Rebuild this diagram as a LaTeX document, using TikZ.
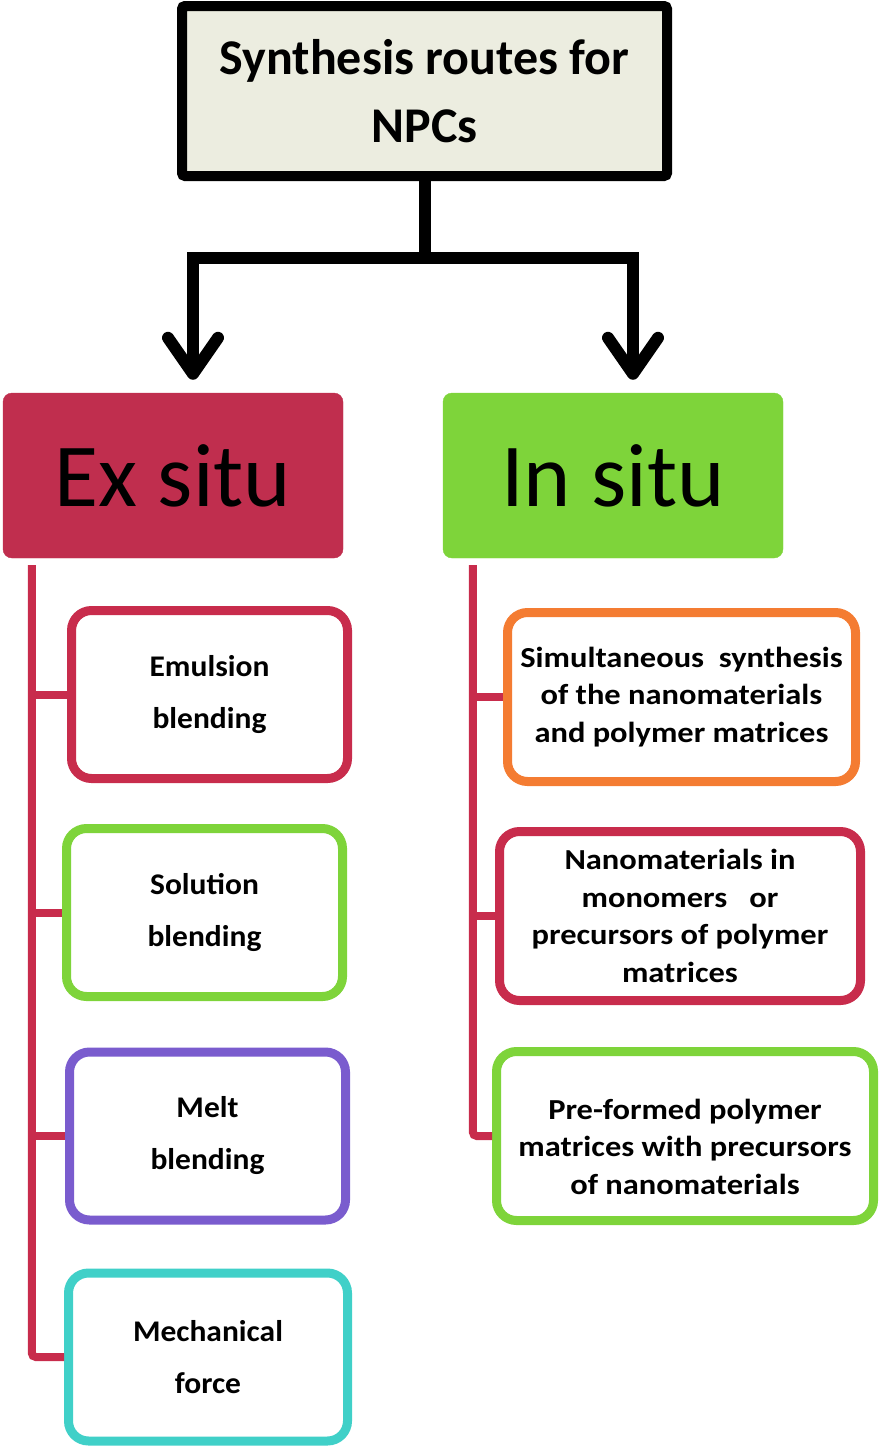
\documentclass[tikz,border=0pt]{standalone}
\usepackage{fontspec}
\setmainfont{Carlito}
\newfontfamily\wideR[FakeStretch=1.12]{Carlito}
\newfontfamily\wideL[FakeStretch=1.05]{Carlito}
\usetikzlibrary{arrows.meta}
\definecolor{crim}{RGB}{192,46,78}
\definecolor{crimline}{RGB}{200,44,76}
\definecolor{grn}{RGB}{126,212,58}
\definecolor{topfill}{RGB}{236,237,224}
\definecolor{orng}{RGB}{244,124,50}
\definecolor{purp}{RGB}{122,92,206}
\definecolor{cyn}{RGB}{64,208,200}
\begin{document}
\begin{tikzpicture}[x=1pt,y=-1pt,
  topbox/.style={draw=black, line width=10pt, fill=topfill, rounded corners=3pt,
    minimum width=485pt, minimum height=170pt, align=center, inner sep=0pt,
    font=\fontsize{50}{68}\selectfont\bfseries},
  bigbox/.style={fill=#1, draw=#1, rounded corners=9pt, minimum width=340pt,
    minimum height=165pt, inner sep=0pt, font=\fontsize{90}{90}\selectfont},
  leafL/.style={draw=#1, line width=9pt, fill=white, rounded corners=20pt,
    minimum width=276pt, minimum height=168pt, align=center, inner sep=0pt,
    font=\wideL\fontsize{30}{52}\selectfont\bfseries},
  leafR/.style={draw=#1, line width=9pt, fill=white, rounded corners=20pt,
    minimum height=169pt, align=center, inner sep=0pt,
    font=\wideR\fontsize{29}{37.5}\selectfont\bfseries},
  arr/.style={line width=12pt, draw=black},
  tip/.style={-{Straight Barb[length=36pt, width=50pt, line width=12pt, round]}},
  trunk/.style={line width=8pt, draw=crimline, rounded corners=4pt}
]
\useasboundingbox (0,0) rectangle (888,1454);

\node[topbox] (top) at (424.5,91) {Synthesis routes for\\NPCs};

\node[bigbox=crim] (ex) at (173,475.5) {Ex situ};
\node[bigbox=grn] (in) at (613,475.5) {In situ};

\coordinate (j) at (top.south |- 0,258);
\draw[arr] (top.south) -- (j);
\draw[arr, tip] (j) -| ([xshift=20pt, yshift=13pt]ex.north);
\draw[arr, tip] (j) -| ([xshift=20pt, yshift=13pt]in.north);

\node[leafL=crimline] (emul) at (209.5,694.5) {Emulsion\\blending};
\node[leafL=grn] (sol) at (204.5,912.5) {Solution\\blending};
\node[leafL=purp] (melt) at (207.5,1136) {Melt\\blending};
\node[leafL=cyn, minimum width=279pt] (mech) at (208,1357) {Mechanical\\force};

\node[leafR=orng, minimum width=348pt] (sim) at (681.5,697) {Simultaneous\ \ synthesis\\of the\ nanomaterials\\and polymer\ matrices};
\node[leafR=crimline, minimum width=361pt] (nano) at (680,916) {Nanomaterials\ in\\monomers\ \ \ or\\precursors of polymer\\matrices};
\node[leafR=grn, minimum width=377pt] (pre) at (685,1136) {\raisebox{-13pt}[\height][\depth]{\begin{tabular}{@{}c@{}}Pre-formed polymer\\matrices with precursors\\of nanomaterials\end{tabular}}};

\coordinate (lt) at ([xshift=29pt, yshift=-7pt]ex.south west);
\draw[trunk] (lt) |- (mech.west);
\draw[trunk] (lt |- emul.west) -- (emul.west);
\draw[trunk] (lt |- sol.west) -- (sol.west);
\draw[trunk] (lt |- melt.west) -- (melt.west);

\coordinate (rt) at ([xshift=30pt, yshift=-7pt]in.south west);
\draw[trunk] (rt) |- (pre.west);
\draw[trunk] (rt |- sim.west) -- (sim.west);
\draw[trunk] (rt |- nano.west) -- (nano.west);
\end{tikzpicture}
\end{document}
